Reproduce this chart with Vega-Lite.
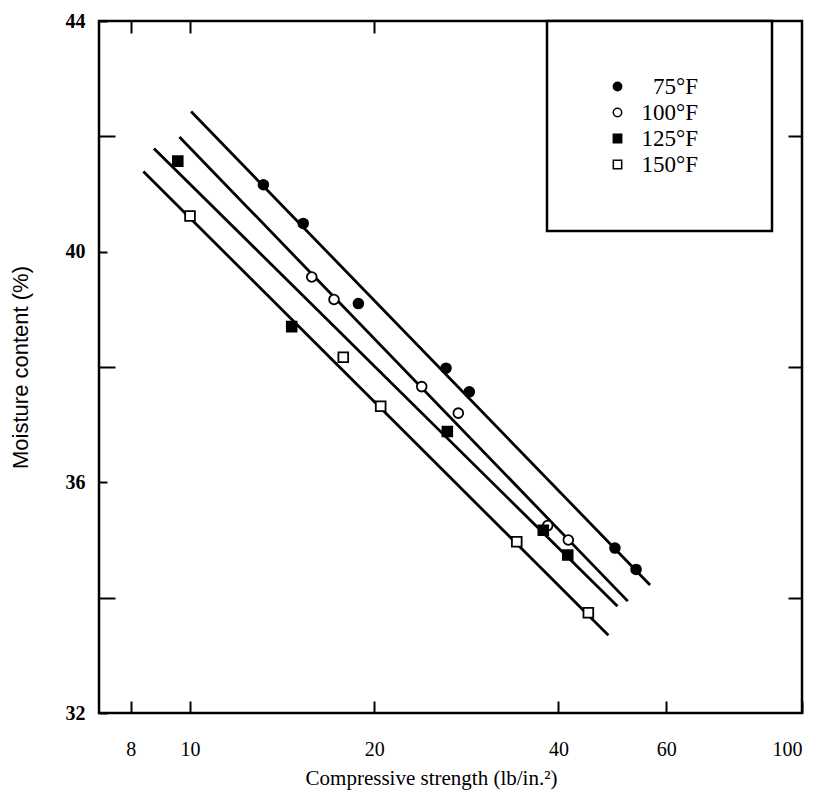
{
  "$schema": "https://vega.github.io/schema/vega-lite/v6.json",
  "width": 703,
  "height": 692,
  "autosize": {"type": "none"},
  "padding": {"left": 99, "top": 21, "right": 24, "bottom": 85},
  "background": "white",
  "config": {
    "view": {"stroke": "black", "strokeWidth": 2.5},
    "font": "Liberation Serif",
    "legend": {"strokeWidth": 2.5}
  },
  "datasets": {
    "fits": [
      {"series": "75°F", "strength": 10.04, "moisture": 42.43},
      {"series": "75°F", "strength": 56.45, "moisture": 34.22},
      {"series": "100°F", "strength": 9.61, "moisture": 41.99},
      {"series": "100°F", "strength": 51.91, "moisture": 33.94},
      {"series": "125°F", "strength": 8.73, "moisture": 41.79},
      {"series": "125°F", "strength": 49.95, "moisture": 33.85},
      {"series": "150°F", "strength": 8.39, "moisture": 41.39},
      {"series": "150°F", "strength": 48.26, "moisture": 33.35}
    ],
    "obs": [
      {"series": "75°F", "strength": 13.18, "moisture": 41.16},
      {"series": "75°F", "strength": 15.31, "moisture": 40.49},
      {"series": "75°F", "strength": 18.84, "moisture": 39.10},
      {"series": "75°F", "strength": 26.20, "moisture": 37.98},
      {"series": "75°F", "strength": 28.60, "moisture": 37.57},
      {"series": "75°F", "strength": 49.47, "moisture": 34.86},
      {"series": "75°F", "strength": 53.56, "moisture": 34.49},
      {"series": "100°F", "strength": 15.81, "moisture": 39.56},
      {"series": "100°F", "strength": 17.19, "moisture": 39.17},
      {"series": "100°F", "strength": 23.91, "moisture": 37.66},
      {"series": "100°F", "strength": 27.44, "moisture": 37.20},
      {"series": "100°F", "strength": 38.41, "moisture": 35.25},
      {"series": "100°F", "strength": 41.51, "moisture": 35.00},
      {"series": "125°F", "strength": 9.55, "moisture": 41.57},
      {"series": "125°F", "strength": 14.66, "moisture": 38.70},
      {"series": "125°F", "strength": 26.33, "moisture": 36.88},
      {"series": "125°F", "strength": 37.78, "moisture": 35.17},
      {"series": "125°F", "strength": 41.42, "moisture": 34.74},
      {"series": "150°F", "strength": 10.00, "moisture": 40.62},
      {"series": "150°F", "strength": 17.80, "moisture": 38.17},
      {"series": "150°F", "strength": 20.49, "moisture": 37.32},
      {"series": "150°F", "strength": 34.19, "moisture": 34.97},
      {"series": "150°F", "strength": 44.76, "moisture": 33.74}
    ]
  },
  "layer": [
    {
      "data": {"name": "fits"},
      "mark": {"type": "line", "color": "black", "strokeWidth": 2.8},
      "encoding": {
        "x": {
          "field": "strength", "type": "quantitative",
          "scale": {"type": "log", "domain": [7.1, 100], "nice": false},
          "axis": {
            "orient": "bottom", "values": [8, 10, 20, 40, 60, 100], "format": "d",
            "title": "Compressive strength (lb/in.²)",
            "domain": false, "grid": false,
            "tickSize": -12, "tickWidth": 2, "tickColor": "black",
            "labelPadding": 38, "labelFont": "Liberation Serif", "labelFontSize": 20, "labelColor": "black",
            "titleFont": "Liberation Serif", "titleFontSize": 21, "titleFontWeight": "normal", "titleColor": "black",
            "titlePadding": 8, "titleX": 332
          }
        },
        "y": {
          "field": "moisture", "type": "quantitative",
          "scale": {"domain": [32, 44], "nice": false, "zero": false},
          "axis": {
            "orient": "left", "values": [32, 34, 36, 38, 40, 42, 44],
            "labelExpr": "datum.value % 4 == 0 ? datum.label : ''",
            "title": "Moisture content (%)",
            "domain": false, "grid": false,
            "tickSize": {"condition": {"test": "datum.value % 4 == 2", "value": -16}, "value": -8},
            "tickWidth": 2, "tickColor": "black",
            "labelPadding": 22, "labelFont": "Liberation Serif", "labelFontSize": 20, "labelFontWeight": "bold", "labelColor": "black",
            "titleFont": "Liberation Sans", "titleFontSize": 22, "titleFontWeight": "normal", "titleColor": "black",
            "titlePadding": 33
          }
        },
        "detail": {"field": "series"}
      }
    },
    {
      "data": {"name": "obs"},
      "mark": {"type": "point", "filled": true, "strokeWidth": 1.8, "size": 95, "opacity": 1},
      "encoding": {
        "x": {
          "field": "strength", "type": "quantitative",
          "scale": {"type": "log", "domain": [7.1, 100], "nice": false},
          "axis": {"orient": "top", "values": [8, 10, 20, 40, 60], "labels": false, "title": null, "domain": false, "grid": false,
                   "tickSize": -12, "tickWidth": 2, "tickColor": "black"}
        },
        "y": {
          "field": "moisture", "type": "quantitative",
          "scale": {"domain": [32, 44], "nice": false, "zero": false},
          "axis": {"orient": "right", "values": [34, 38, 42], "labels": false, "title": null, "domain": false, "grid": false,
                   "tickSize": -14, "tickWidth": 2, "tickColor": "black"}
        },
        "shape": {
          "field": "series", "type": "nominal",
          "scale": {"domain": ["75°F", "100°F", "125°F", "150°F"], "range": ["circle", "circle", "square", "square"]},
          "legend": {
            "orient": "none", "legendX": 448, "legendY": 0, "title": "\u2007", "titleOrient": "right", "titleFontSize": 20, "titlePadding": 20,
            "strokeColor": "black", "padding": 54, "fillColor": "white",
            "labelFont": "Liberation Serif", "labelFontSize": 23, "labelColor": "black", "labelAlign": "right",
            "symbolSize": 70, "symbolStrokeWidth": 1.5, "symbolOffset": 5,
            "rowPadding": 2, "labelOffset": 69
          }
        },
        "fill": {
          "field": "series", "type": "nominal",
          "scale": {"domain": ["75°F", "100°F", "125°F", "150°F"], "range": ["black", "white", "black", "white"]},
          "legend": {
            "orient": "none", "legendX": 448, "legendY": 0, "title": "\u2007", "titleOrient": "right", "titleFontSize": 20, "titlePadding": 20,
            "strokeColor": "black", "padding": 54, "fillColor": "white",
            "labelFont": "Liberation Serif", "labelFontSize": 23, "labelColor": "black", "labelAlign": "right",
            "symbolSize": 70, "symbolStrokeWidth": 1.5, "symbolOffset": 5,
            "rowPadding": 2, "labelOffset": 69
          }
        },
        "stroke": {
          "field": "series", "type": "nominal",
          "scale": {"domain": ["75°F", "100°F", "125°F", "150°F"], "range": ["black", "black", "black", "black"]},
          "legend": {
            "orient": "none", "legendX": 448, "legendY": 0, "title": "\u2007", "titleOrient": "right", "titleFontSize": 20, "titlePadding": 20,
            "strokeColor": "black", "padding": 54, "fillColor": "white",
            "labelFont": "Liberation Serif", "labelFontSize": 23, "labelColor": "black", "labelAlign": "right",
            "symbolSize": 70, "symbolStrokeWidth": 1.5, "symbolOffset": 5,
            "rowPadding": 2, "labelOffset": 69
          }
        }
      }
    }
  ],
  "resolve": {"axis": {"x": "independent", "y": "independent"}}
}
